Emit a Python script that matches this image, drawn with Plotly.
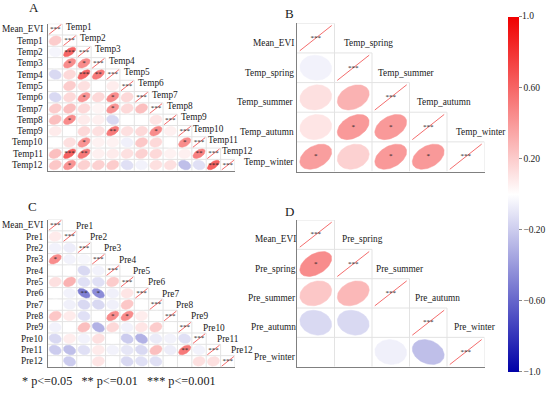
import numpy as np
import plotly.graph_objects as go
from plotly.colors import sample_colorscale

# ---------------- data ----------------
A_vars = ["Mean_EVI", "Temp1", "Temp2", "Temp3", "Temp4", "Temp5", "Temp6",
          "Temp7", "Temp8", "Temp9", "Temp10", "Temp11", "Temp12"]
A_r = [
    [0.20],
    [-0.04, 0.60],
    [0.00, 0.45, 0.45],
    [-0.15, 0.15, 0.60, 0.52],
    [0.00, 0.20, 0.12, 0.00, 0.07],
    [-0.15, 0.15, 0.42, 0.15, 0.45, 0.15],
    [0.20, 0.25, 0.15, 0.04, 0.42, 0.15, 0.25],
    [0.25, 0.45, 0.08, 0.06, -0.15, 0.00, 0.00, 0.10],
    [0.08, 0.00, 0.15, 0.12, 0.52, 0.12, 0.15, 0.45, 0.06],
    [0.00, 0.12, 0.42, 0.05, 0.05, -0.06, 0.22, 0.15, 0.00, 0.45],
    [0.25, 0.62, 0.52, 0.06, 0.08, 0.12, 0.18, 0.15, 0.05, 0.06, 0.50],
    [0.22, 0.42, 0.18, 0.18, 0.20, -0.12, -0.05, 0.12, 0.12, -0.25, -0.12, 0.62],
]
A_sig = [
    [""],
    ["", "***"],
    ["", "*", "*"],
    ["", "", "***", "**"],
    ["", "", "", "", ""],
    ["", "", "*", "", "*", ""],
    ["", "", "", "", "*", "", ""],
    ["", "*", "", "", "", "", "", ""],
    ["", "", "", "", "**", "", "", "*", ""],
    ["", "", "*", "", "", "", "", "", "", "*"],
    ["", "***", "**", "", "", "", "", "", "", "", "**"],
    ["", "*", "", "", "", "", "", "", "", "", "", "***"],
]

B_vars = ["Mean_EVI", "Temp_spring", "Temp_summer", "Temp_autumn", "Temp_winter"]
B_r = [
    [-0.05],
    [0.12, 0.30],
    [0.10, 0.40, 0.40],
    [0.38, 0.18, 0.40, 0.40],
]
B_sig = [
    [""],
    ["", ""],
    ["", "*", "*"],
    ["*", "", "*", "*"],
]

C_vars = ["Mean_EVI", "Pre1", "Pre2", "Pre3", "Pre4", "Pre5", "Pre6",
          "Pre7", "Pre8", "Pre9", "Pre10", "Pre11", "Pre12"]
C_r = [
    [0.08],
    [-0.05, -0.07],
    [0.45, -0.05, -0.03],
    [0.00, 0.00, -0.15, -0.05],
    [0.12, 0.30, -0.12, -0.12, 0.20],
    [0.00, -0.05, -0.50, -0.45, -0.06, 0.10],
    [0.00, -0.06, -0.15, -0.15, -0.06, 0.22, 0.00],
    [0.22, 0.08, -0.12, 0.00, 0.45, 0.45, 0.07, 0.00],
    [-0.05, 0.00, 0.25, -0.30, 0.15, -0.05, 0.10, 0.20, 0.00],
    [-0.15, 0.07, -0.05, 0.12, 0.00, -0.20, -0.30, -0.08, -0.05, -0.12],
    [-0.20, -0.25, -0.12, 0.08, -0.05, -0.10, -0.15, 0.25, -0.07, 0.52, -0.05],
    [0.00, -0.20, 0.00, 0.10, 0.00, -0.15, -0.12, -0.12, 0.00, 0.00, 0.12, 0.12],
]
C_sig = [
    [""],
    ["", ""],
    ["*", "", ""],
    ["", "", "", ""],
    ["", "", "", "", ""],
    ["", "", "**", "*", "", ""],
    ["", "", "", "", "", "", ""],
    ["", "", "", "", "*", "*", "", ""],
    ["", "", "", "", "", "", "", "", ""],
    ["", "", "", "", "", "", "", "", "", ""],
    ["", "", "", "", "", "", "", "", "", "**", ""],
    ["", "", "", "", "", "", "", "", "", "", "", ""],
]

D_vars = ["Mean_EVI", "Pre_spring", "Pre_summer", "Pre_autumn", "Pre_winter"]
D_r = [
    [0.45],
    [0.22, 0.28],
    [-0.15, -0.15, 0.00],
    [0.00, 0.00, -0.06, -0.25],
]
D_sig = [
    ["*"],
    ["", ""],
    ["", "", ""],
    ["", "", "", ""],
]

diag_label = "***"
cbar_vals = [1.0, 0.6, 0.2, -0.2, -0.6, -1.0]
cbar_text = ["1.0", "0.60", "0.20", "\u22120.20", "\u22120.60", "\u22121.0"]
legend_text = "* p<=0.05\u00a0\u00a0 ** p<=0.01\u00a0\u00a0 *** p<=0.001"

# ---------------- style ----------------
W, H = 550, 393
FONT = "Liberation Serif, Times New Roman, serif"
TXT = "#1a1a1a"
COLORSCALE = [[0.0, "#0000A8"], [0.5, "#FFFFFF"], [1.0, "#F00000"]]
GRID = "#E3E3E3"
AXLINE = "#808080"
CB_TOP, CB_BOT, CB_LEFT, CB_THICK = 16.5, 371.5, 508, 11

panels = [
    dict(letter="A", vars=A_vars, r=A_r, sig=A_sig, px=(48, 235), py=(23.7, 170.7),
         col_dx=9.5, col_dy=-2.5, row_dx=-3, row_dy=0, lpos=(33.5, 7.5)),
    dict(letter="B", vars=B_vars, r=B_r, sig=B_sig, px=(297, 484.5), py=(23.3, 171.5),
         col_dx=15.5, col_dy=5, row_dx=-1, row_dy=5, lpos=(289.5, 13)),
    dict(letter="C", vars=C_vars, r=C_r, sig=C_sig, px=(48, 235), py=(219.5, 367),
         col_dx=14.5, col_dy=0.5, row_dx=-3, row_dy=0, lpos=(32.5, 206)),
    dict(letter="D", vars=D_vars, r=D_r, sig=D_sig, px=(297, 484.5), py=(220, 366.7),
         col_dx=9.5, col_dy=4.5, row_dx=1, row_dy=4.7, lpos=(289, 211)),
]

fig = go.Figure()
annotations = []
t = np.linspace(0, 2 * np.pi, 72)

for k, p in enumerate(panels):
    sfx = "" if k == 0 else str(k + 1)
    xa, ya = "x" + sfx, "y" + sfx
    n = len(p["vars"])

    # grid (lower triangle incl. diagonal)
    gx, gy = [], []
    for i in range(n):
        gx += [-0.5, i + 0.5, None]
        gy += [i - 0.5, i - 0.5, None]
        gx += [i + 0.5, i + 0.5, None]
        gy += [i - 0.5, n - 0.5, None]
    fig.add_trace(go.Scatter(x=gx, y=gy, mode="lines", line=dict(color=GRID, width=1),
                             hoverinfo="skip", xaxis=xa, yaxis=ya))

    # ellipses (corrplot shape)
    for i, row in enumerate(p["r"], start=1):
        for j, r in enumerate(row):
            a = np.arccos(r) / 2
            ex = j + 0.85 * np.cos(t + a) / 2
            ey = i - 0.85 * np.cos(t - a) / 2
            col = sample_colorscale(COLORSCALE, [(r + 1) / 2])[0]
            fig.add_trace(go.Scatter(x=ex, y=ey, mode="lines", fill="toself",
                                     fillcolor=col, line=dict(color=col, width=0.5),
                                     hoverinfo="skip", xaxis=xa, yaxis=ya))

    # diagonal r = 1 lines
    dx, dy = [], []
    ends = np.array([0, np.pi])
    for i in range(n):
        dx += list(i + 0.85 * np.cos(ends) / 2) + [None]
        dy += list(i - 0.85 * np.cos(ends) / 2) + [None]
    fig.add_trace(go.Scatter(x=dx, y=dy, mode="lines", line=dict(color="#F04848", width=0.8),
                             hoverinfo="skip", xaxis=xa, yaxis=ya))

    # significance marks
    sx, sy, st = [], [], []
    for i in range(n):
        sx.append(i); sy.append(i); st.append(diag_label)
    for i, row in enumerate(p["sig"], start=1):
        for j, s in enumerate(row):
            if s:
                sx.append(j); sy.append(i); st.append(s)
    fig.add_trace(go.Scatter(x=sx, y=sy, text=st, mode="text",
                             textfont=dict(family=FONT, size=7, color="#222222"),
                             textposition="middle center", hoverinfo="skip",
                             xaxis=xa, yaxis=ya))

    # axes
    x0, x1 = p["px"]
    y0, y1 = p["py"]
    common = dict(showgrid=False, zeroline=False, showticklabels=False, ticks="",
                  showline=True, linecolor=AXLINE, linewidth=1, fixedrange=True)
    fig.layout["xaxis" + sfx] = dict(domain=[x0 / W, x1 / W], range=[-0.5, n - 0.5],
                                     anchor=ya, **common)
    fig.layout["yaxis" + sfx] = dict(domain=[1 - y1 / H, 1 - y0 / H], range=[n - 0.5, -0.5],
                                     anchor=xa, **common)

    # row labels
    for i, name in enumerate(p["vars"]):
        annotations.append(dict(x=-0.5, y=i, xref=xa, yref=ya, text=name, showarrow=False,
                                xanchor="right", yanchor="middle", xshift=p["row_dx"],
                                yshift=-p["row_dy"],
                                font=dict(family=FONT, size=9.3, color=TXT)))
    # column labels
    for j, name in enumerate(p["vars"]):
        annotations.append(dict(x=j, y=j - 1, xref=xa, yref=ya, text=name, showarrow=False,
                                xanchor="center", yanchor="middle", xshift=p["col_dx"],
                                yshift=-p["col_dy"],
                                font=dict(family=FONT, size=9.3, color=TXT)))
    # panel letter
    lx, ly = p["lpos"]
    annotations.append(dict(x=lx / W, y=1 - ly / H, xref="paper", yref="paper",
                            text=p["letter"], showarrow=False, xanchor="center",
                            yanchor="middle", font=dict(family=FONT, size=13, color=TXT)))

# colorbar carrier
fig.add_trace(go.Scatter(x=[0], y=[0], mode="markers", xaxis="x", yaxis="y",
                         hoverinfo="skip",
                         marker=dict(size=0.1, opacity=0, color=[0], cmin=-1, cmax=1,
                                     colorscale=COLORSCALE, showscale=True,
                                     colorbar=dict(x=CB_LEFT / W, xanchor="left",
                                                   thickness=CB_THICK,
                                                   y=1 - (CB_TOP + CB_BOT) / 2 / H,
                                                   yanchor="middle",
                                                   len=(CB_BOT - CB_TOP) / H,
                                                   lenmode="fraction",
                                                   outlinewidth=0, ticks="outside",
                                                   ticklen=3, tickcolor="#888888",
                                                   tickmode="array",
                                                   tickvals=cbar_vals[1:],
                                                   ticktext=cbar_text[1:],
                                                   tickfont=dict(family=FONT, size=9.5,
                                                                 color="#222222"),
                                                   ypad=0, xpad=0))))

# top end label of the colour scale, on a full-page pixel axis
fig.layout["xaxis5"] = dict(domain=[0, 1], range=[0, W], visible=False, fixedrange=True,
                            anchor="y5")
fig.layout["yaxis5"] = dict(domain=[0, 1], range=[H, 0], visible=False, fixedrange=True,
                            anchor="x5")
top_y = CB_BOT - (cbar_vals[0] + 1) / 2 * (CB_BOT - CB_TOP)
fig.add_trace(go.Scatter(x=[CB_LEFT + CB_THICK + 3], y=[top_y], text=[cbar_text[0]],
                         mode="text", textposition="middle right", cliponaxis=False,
                         textfont=dict(family=FONT, size=9.5, color="#222222"),
                         hoverinfo="skip", xaxis="x5", yaxis="y5"))
fig.add_trace(go.Scatter(x=[CB_LEFT + CB_THICK, CB_LEFT + CB_THICK + 3], y=[top_y, top_y],
                         mode="lines", line=dict(color="#888888", width=1),
                         cliponaxis=False, hoverinfo="skip", xaxis="x5", yaxis="y5"))

annotations.append(dict(x=20 / W, y=1 - 381 / H, xref="paper", yref="paper",
                        text=legend_text, showarrow=False, xanchor="left", yanchor="middle",
                        font=dict(family=FONT, size=12.2, color=TXT)))

fig.update_layout(width=W, height=H, margin=dict(l=0, r=0, t=0, b=0),
                  paper_bgcolor="white", plot_bgcolor="rgba(0,0,0,0)", showlegend=False,
                  annotations=annotations)

fig.write_html("out.html", config={"displayModeBar": False, "staticPlot": True},
               post_script="document.body.style.margin='0';"
                           "document.body.style.overflow='hidden';")
